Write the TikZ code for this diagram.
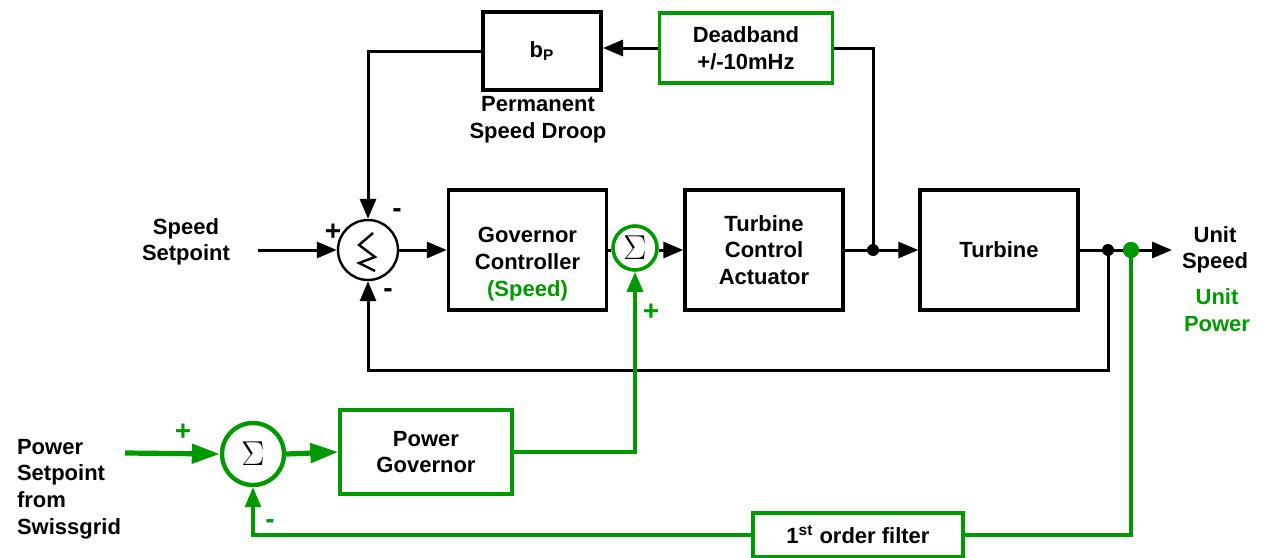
\documentclass[tikz,border=0pt]{standalone}
\usepackage{fontspec}
\setmainfont{Liberation Sans}
\usetikzlibrary{arrows.meta}
\definecolor{govgreen}{RGB}{0,153,0}

\begin{document}
\begin{tikzpicture}[x=0.5pt, y=-0.5pt,
    every node/.style={font=\bfseries\fontsize{11}{13.3}\selectfont, align=center},
    block/.style={rectangle, draw, line width=1.7pt, minimum width=79pt, minimum height=60pt},
    gblock/.style={rectangle, draw=govgreen, line width=1.7pt},
    sumc/.style={circle, draw, line width=1.2pt, minimum size=30pt, inner sep=0pt},
    gsum/.style={circle, draw=govgreen, line width=1.8pt, inner sep=0pt, font=\fontsize{17}{17}\selectfont},
    dot/.style={circle, fill, inner sep=0pt, minimum size=6pt},
    sign/.style={font=\bfseries\fontsize{14}{14}\selectfont, inner sep=0pt},
    arr/.style={-{Triangle[length=10pt,width=8pt]}, line width=1.5pt},
    garr/.style={arr, color=govgreen, line width=1.7pt},
    bigarr/.style={-{Triangle[length=14pt,width=9.5pt]}, color=govgreen, line width=2.6pt}]
    \useasboundingbox (0,0) rectangle (1263,557);

    % speed loop
    \node (bp) [rectangle, draw, line width=2pt, minimum width=59pt, minimum height=39pt] at (542,51) {b\textsubscript{P}};
    \node (droop) at (538,120) {Permanent\\Speed Droop};
    \node (dead) [gblock, minimum width=86.5pt, minimum height=35pt] at (746,48) {Deadband\\+/-10mHz};
    \node (sum1) [sumc] at (368,250) {};
    \draw [line width=1.2pt] (373,233) -- (359,245) -- (375,257) -- (359,263) -- (375,271);
    \node (gov) [block, label={[yshift=-7pt]center:Governor\\Controller\\\textcolor{govgreen}{(Speed)}}] at (527.5,250) {};
    \node (sum2) [gsum, minimum size=22pt] at (635,248) {$\Sigma$};
    \node (tca) [block] at (764,250) {Turbine\\Control\\Actuator};
    \node (turb) [block] at (999,250) {Turbine};
    \node (sspt) at (186,242) {Speed\\Setpoint};
    \node (uspeed) at (1215,250) {Unit\\Speed};
    \node (upower) [text=govgreen] at (1217,310) {Unit\\Power};
    \coordinate (ssin) at (258,250);
    \coordinate (out) at (1172,250);
    \node (j1) [dot] at (873,250) {};
    \node (j2) [dot] at (1108,250) {};

    % power loop
    \node (psp) [anchor=west, align=left] at (10,489) {Power\\Setpoint\\from\\Swissgrid};
    \coordinate (pspin) at (125,453);
    \node (sum3) [gsum, line width=2.2pt, minimum size=31pt] at (253,454) {$\Sigma$};
    \node (pgov) [gblock, minimum width=86pt, minimum height=42pt] at (426,452) {Power\\Governor};
    \node (filt) [gblock, minimum width=105pt, minimum height=22pt] at (858,535) {1\textsuperscript{st} order filter};
    \node (j3) [dot, fill=govgreen, minimum size=8pt] at (1131,250) {};

    % signs
    \node [sign] at (333,232) {+};
    \node [sign] at (397,213) {-};
    \node [sign] at (388,293) {-};
    \node [sign, text=govgreen] at (651,312) {+};
    \node [sign, text=govgreen] at (183,432) {+};
    \node [sign, text=govgreen] at (270,524) {-};

    \draw [arr] (dead.west) -- (dead.west -| bp.east);
    \draw [line width=1.5pt] (j1.center) |- (dead.east);
    \draw [arr] (bp.west) -| (sum1.north);
    \draw [arr] (ssin) -- (sum1.west);
    \draw [arr] (sum1.east) -- (gov.west);
    \draw [line width=1.5pt] (gov.east) -- (sum2.west |- gov.east);
    \draw [arr] (sum2.east |- tca.west) -- (tca.west);
    \draw [arr] (tca.east) -- (turb.west);
    \draw [arr] (turb.east) -- (out);
    \draw [arr] (j2.center) -- ++(0,120) -| (sum1.south);

    \draw [bigarr] (pspin) -- (sum3.west);
    \draw [bigarr] (sum3.east) -- (pgov.west);
    \draw [garr] (pgov.east) -| (sum2.south);
    \draw [color=govgreen, line width=1.7pt] (j3.center) |- (filt.east);
    \draw [garr] (filt.west) -| (sum3.south);
    \node [dot, fill=govgreen, minimum size=8pt] at (j3) {};
\end{tikzpicture}
\end{document}
